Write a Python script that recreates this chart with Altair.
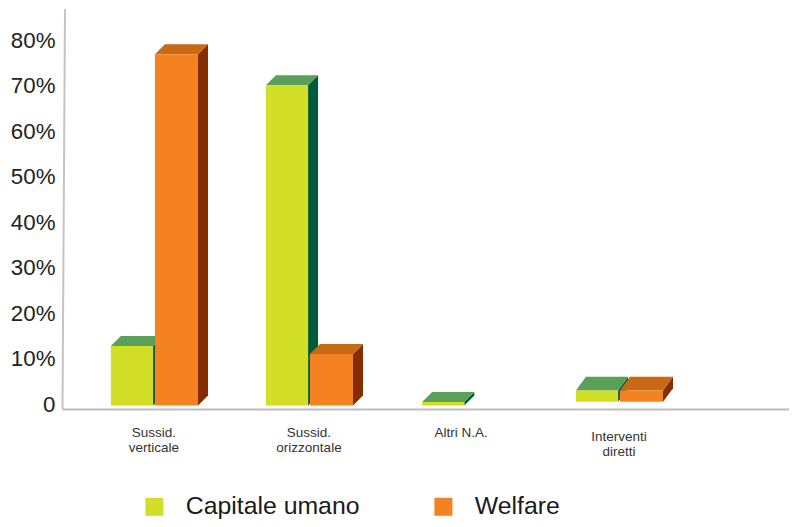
import altair as alt
import pandas as pd

categories = ["Sussid.\nverticale", "Sussid.\norizzontale", "Altri N.A.", "Interventi\ndiretti"]
group_pos = [0, 1, 2.008, 3]
label_pos = [0, 1, 1.982, 3]
capitale_top = [13.1, 70.4, 0.75, 3.3]
capitale_base = [0, 0, 0, 0.8]
welfare_top = [77.2, 11.3, None, 3.3]
welfare_base = [0, 0, None, 0.8]
depth_y = [2.2, 2.2, 2.2, 3.0]
SERIES = ["Capitale umano", "Welfare"]
FRONT = ["#D2DF26", "#F58220"]
TOP = {"Capitale umano": "#5AA05A", "Welfare": "#C86A14"}
SIDE = {"Capitale umano": "#005A3C", "Welfare": "#852D00"}

GAP = 0.006
DX = 0.0645
# plot area spans page x 62..789 and y 9..409
XS = alt.Scale(domain=[-0.5935, 4.0968], nice=False, zero=False)
YS = alt.Scale(domain=[-0.77, 87.14], nice=False, zero=False)
FONT = "Liberation Sans"

X_AX = alt.Axis(title=None, domain=True, domainColor="#bdbdbd", domainWidth=2,
                ticks=False, labels=False, grid=False, values=[])
Y_AX = alt.Axis(title=None, domain=False, ticks=False, grid=False,
                values=list(range(0, 90, 10)),
                labelExpr="datum.value == 0 ? '0' : datum.value + '%'",
                labelFont=FONT, labelFontSize=22.3, labelColor="#222222",
                labelPadding=7, labelBaseline="middle", labelOffset=-1)
X = alt.X("x:Q", scale=XS, axis=X_AX)
Y = alt.Y("y:Q", scale=YS, axis=Y_AX)


def faces(name, tops, bases, x_from, w):
    front, side, top = [], [], []
    for i, (t, b) in enumerate(zip(tops, bases)):
        if t is None:
            continue
        x0, x1 = group_pos[i] + x_from, group_pos[i] + x_from + w
        d = depth_y[i]
        front.append(dict(series=name, x=x0, x2=x1, y=b, y2=t))
        side.append(dict(g=i, x=x1, y=b, y2=t))
        side.append(dict(g=i, x=x1 + DX, y=b + d, y2=t + d))
        top.append(dict(g=i, y=t, x=x0, x2=x1))
        top.append(dict(g=i, y=t + d, x=x0 + DX, x2=x1 + DX))
    return pd.DataFrame(front), pd.DataFrame(side), pd.DataFrame(top)


def series_layers(name, tops, bases, x_from, w):
    f, s, t = faces(name, tops, bases, x_from, w)
    side = alt.Chart(s).mark_area(color=SIDE[name], orient="vertical").encode(
        x=X, y=Y, y2="y2:Q", detail="g:N")
    top = alt.Chart(t).mark_area(color=TOP[name], orient="horizontal").encode(
        y=Y, x=X, x2="x2:Q", detail="g:N")
    front = alt.Chart(f).mark_bar().encode(
        x=X, x2="x2:Q", y=Y, y2="y2:Q",
        color=alt.Color("series:N", scale=alt.Scale(domain=SERIES, range=FRONT), legend=alt.Legend(
            title=None, orient="none", legendX=80, legendY=485, direction="horizontal",
            symbolType="square", symbolSize=324, symbolStrokeWidth=0, symbolOpacity=1,
            labelFont=FONT, labelFontSize=24.8, labelColor="#1a1a1a", labelOffset=19,
            columnPadding=71, labelLimit=300, padding=0, rowPadding=0)))
    return [side, top, front]


y_line = alt.Chart(pd.DataFrame({"v": [0]})).mark_rule(color="#c4c4c4", strokeWidth=2).encode(
    x=alt.value(0.5), x2=alt.value(3), y=alt.value(400), y2=alt.value(0))

lab = pd.DataFrame({"x": label_pos, "t": categories, "i": list(range(4))})
label_base = alt.Chart(lab).encode(x=X, text="t:N")
labels_a = label_base.transform_filter("datum.i < 3").mark_text(
    lineBreak="\n", lineHeight=14.7, font=FONT, fontSize=13.5, color="#333333", baseline="top", align="center"
).encode(y=alt.value(417))
labels_b = label_base.transform_filter("datum.i == 3").mark_text(
    lineBreak="\n", lineHeight=14.7, font=FONT, fontSize=13.5, color="#333333", baseline="top", align="center"
).encode(y=alt.value(421))

chart = alt.layer(
    y_line,
    *series_layers(SERIES[0], capitale_top, capitale_base, -0.272 - GAP, 0.272),
    *series_layers(SERIES[1], welfare_top, welfare_base, GAP, 0.278),
    labels_a, labels_b,
).properties(
    width=727, height=400,
    padding={"left": 54, "top": 1, "right": 0, "bottom": 110},
    autosize=alt.AutoSizeParams(type="none"),
).configure_view(stroke=None)

chart.save("out.html", embed_options={"renderer": "svg", "actions": False})
